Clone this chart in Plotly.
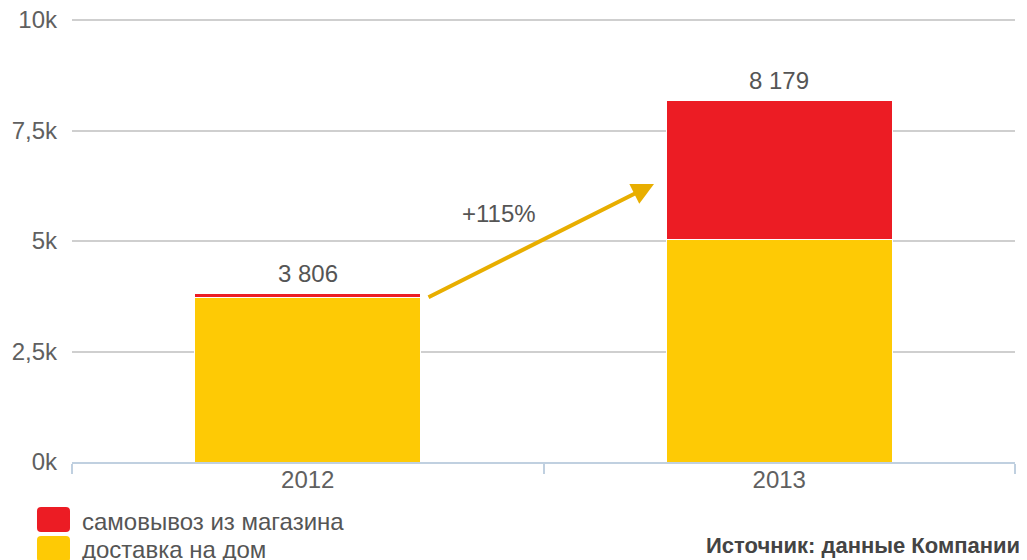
import plotly.graph_objects as go

# ---- data ----
years = ["2012", "2013"]
home_delivery = [3730, 5030]      # доставка на дом
store_pickup = [76, 3149]         # самовывоз из магазина
series_names = ["доставка на дом", "самовывоз из магазина"]
y_tickvals = [0, 2500, 5000, 7500, 10000]
y_ticktext = ["0k", "2,5k", "5k", "7,5k", "10k"]
growth_label = "+115%"
source_label = "Источник: данные Компании"

# ---- styling ----
OFF = 8                      # page body margin offset
W, H = 1027 - OFF, 560 - OFF
HEAD = 5                     # px of headroom above the 10k gridline
ML, MR, MT, MB = 72 - OFF, 12, 20 - OFF - HEAD, 98
PW, PH = W - ML - MR, H - MT - MB
Y_TOP = 10000 * PH / (PH - HEAD)
YELLOW = "#FECA05"
RED = "#EC1C24"
FONT = "Liberation Sans, Arial, sans-serif"


def px_x(x):
    # page pixel -> paper
    return (x - OFF - ML) / PW


def px_y(y):
    return (H - MB - (y - OFF)) / PH


fig = go.Figure()
fig.add_trace(go.Bar(x=years, y=home_delivery, name=series_names[0],
                     marker=dict(color=YELLOW, line=dict(color="white", width=1)),
                     width=0.48, hoverinfo="skip"))
fig.add_trace(go.Bar(x=years, y=store_pickup, name=series_names[1],
                     marker=dict(color=RED, line=dict(color="white", width=1)),
                     width=0.48, hoverinfo="skip"))

annotations = []
for i, (a, b) in enumerate(zip(home_delivery, store_pickup)):
    total = a + b
    annotations.append(dict(x=i, y=total, xref="x", yref="y",
                            text=f"{total:,}".replace(",", " "),
                            showarrow=False, yanchor="middle", yshift=20,
                            font=dict(family=FONT, size=24, color="#555555")))

# growth arrow
annotations.append(dict(x=px_x(654), y=px_y(184), xref="paper", yref="paper",
                        ax=427 - 654, ay=298 - 184, axref="pixel", ayref="pixel",
                        text="", showarrow=True, arrowhead=2, arrowsize=1.1,
                        arrowwidth=4, arrowcolor="#E8AE00"))
annotations.append(dict(x=px_x(499), y=px_y(213), xref="paper", yref="paper",
                        text=growth_label, showarrow=False,
                        xanchor="center", yanchor="middle",
                        font=dict(family=FONT, size=24, color="#555555")))

# custom legend
def rounded_rect(x0, y0, x1, y1, r=4):
    X = lambda v: f"{px_x(v):.5f}"
    Y = lambda v: f"{px_y(v):.5f}"
    return (f"M {X(x0 + r)},{Y(y0)} L {X(x1 - r)},{Y(y0)} Q {X(x1)},{Y(y0)} {X(x1)},{Y(y0 + r)} "
            f"L {X(x1)},{Y(y1 - r)} Q {X(x1)},{Y(y1)} {X(x1 - r)},{Y(y1)} "
            f"L {X(x0 + r)},{Y(y1)} Q {X(x0)},{Y(y1)} {X(x0)},{Y(y1 - r)} "
            f"L {X(x0)},{Y(y0 + r)} Q {X(x0)},{Y(y0)} {X(x0 + r)},{Y(y0)} Z")

shapes = [
    dict(type="path", xref="paper", yref="paper", path=rounded_rect(37, 507, 70, 532),
         fillcolor=RED, line=dict(width=0)),
    dict(type="path", xref="paper", yref="paper", path=rounded_rect(37, 536, 70, 562),
         fillcolor=YELLOW, line=dict(width=0)),
]
legend_items = [(series_names[1], 521), (series_names[0], 549)]
for name, cy in legend_items:
    annotations.append(dict(x=px_x(80), y=px_y(cy), xref="paper", yref="paper",
                            text=name, showarrow=False, xanchor="left", yanchor="middle",
                            font=dict(family=FONT, size=24, color="#555555")))

annotations.append(dict(x=px_x(1022), y=px_y(545), xref="paper", yref="paper",
                        text=f"<b>{source_label}</b>", showarrow=False,
                        xanchor="right", yanchor="middle",
                        font=dict(family=FONT, size=22, color="#444444")))

fig.update_layout(
    width=W, height=H,
    margin=dict(l=ML, r=MR, t=MT, b=MB, pad=0, autoexpand=False),
    barmode="stack",
    showlegend=False,
    plot_bgcolor="white", paper_bgcolor="white",
    annotations=annotations, shapes=shapes,
    font=dict(family=FONT, size=24, color="#606060"),
)
fig.update_xaxes(type="category", range=[-0.5, 1.5], automargin=False,
                 showgrid=False, showline=True,
                 linecolor="#C0D0E0", linewidth=2,
                 ticks="outside", tickson="boundaries", ticklen=10,
                 tickcolor="#C0D0E0", tickwidth=2,
                 ticklabelstandoff=-5,
                 tickfont=dict(family=FONT, size=24, color="#606060"))
fig.update_yaxes(range=[0, Y_TOP], tickvals=y_tickvals, ticktext=y_ticktext,
                 automargin=False, ticklabeloverflow="allow",
                 showgrid=True, gridcolor="#CFCFCF", gridwidth=2,
                 zeroline=False, showline=False, ticks="",
                 ticklabelstandoff=14,
                 tickfont=dict(family=FONT, size=24, color="#606060"))

fig.write_html("out.html")
